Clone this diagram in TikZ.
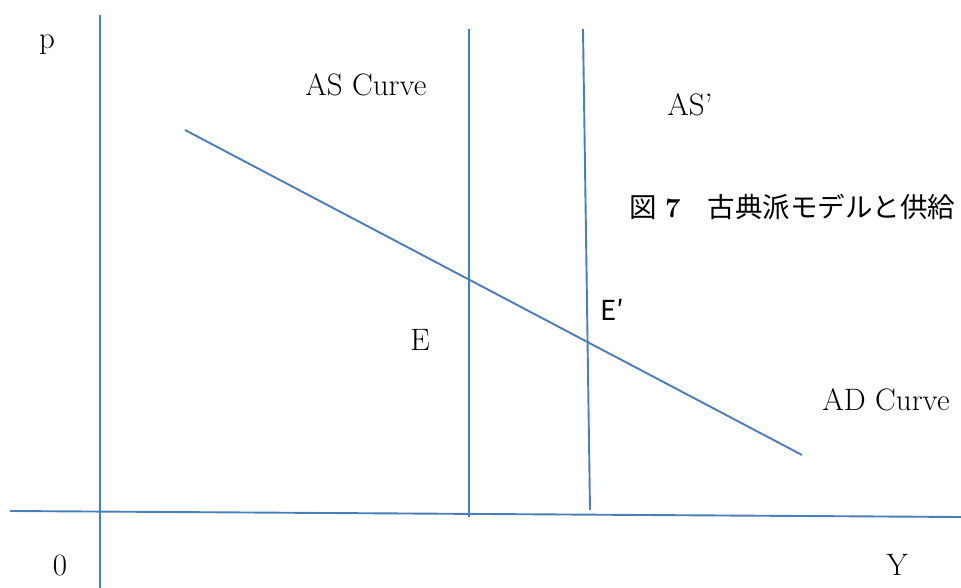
\documentclass[tikz,border=0pt]{standalone}
\usepackage{fontspec}
\newfontfamily\cjk{Noto Sans CJK JP}
\usepackage{xcolor}
\definecolor{LineBlue}{HTML}{4A7EBB}
\tikzset{
    % lines
    axis/.style={
        draw=LineBlue,
        line width=1.9pt
    },
    curve/.style={
        draw=LineBlue,
        line width=1.9pt
    },
    % labels
    label text/.style={
        inner sep=0pt,
        font=\fontsize{31}{36}\selectfont
    },
    caption text/.style={
        inner sep=0pt,
        font=\fontsize{27.5}{32}\selectfont
    }
}

\begin{document}
\begin{tikzpicture}[x=1pt, y=-1pt]
    \useasboundingbox (0,0) rectangle (961,588);

    % axes
    \coordinate (ytop) at (100,15);
    \coordinate (ybot) at (100,588);
    \coordinate (xleft) at (10,511);
    \coordinate (xright) at (961,517);
    \draw[axis] (ytop) -- (ybot);
    \draw[axis] (xleft) -- (xright);

    % supply curves
    \coordinate (astop) at (469,29);
    \coordinate (asbot) at (469,517);
    \coordinate (as2top) at (583,29);
    \coordinate (as2bot) at (590,510);
    \draw[curve] (astop) -- (asbot);
    \draw[curve] (as2top) -- (as2bot);

    % demand curve
    \coordinate (adtop) at (185,130);
    \coordinate (adbot) at (802,455);
    \draw[curve] (adtop) -- (adbot);

    % labels
    \node[label text] (plabel) at (47,45) {p};
    \node[label text] (aslabel) at (366,85) {AS Curve};
    \node[label text] (as2label) at (690,105) {AS'};
    \node[caption text, anchor=west] (caption) at (629,207)
        {{\cjk 図} \textbf{7}{\cjk 　}{\cjk 古典派モデルと供給}};
    \node[caption text] (e2label) at (612,310) {{\cjk E′}};
    \node[label text] (elabel) at (420,340) {E};
    \node[label text] (adlabel) at (886,400) {AD Curve};
    \node[label text] (zero) at (60,565) {0};
    \node[label text] (ylabel) at (897,565) {Y};
\end{tikzpicture}
\end{document}
